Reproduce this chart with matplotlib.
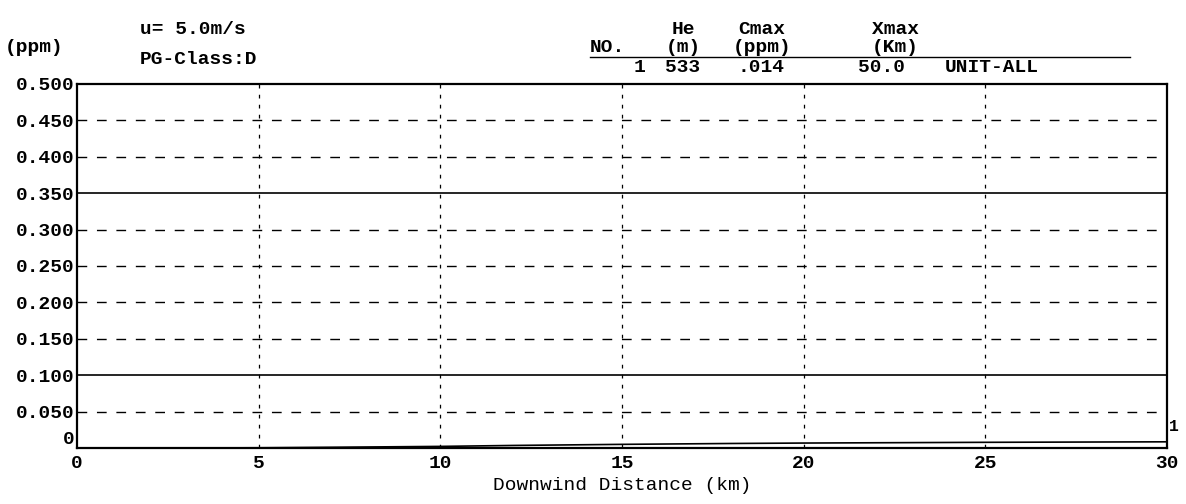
import numpy as np
import matplotlib.pyplot as plt

# ---- data ----
dist_km = [0, 3, 5, 7, 10, 12, 15, 18, 20, 25, 30]
conc_ppm = [0.0, 0.0, 0.0003, 0.001, 0.0022, 0.0035, 0.005, 0.0062, 0.0068, 0.0078, 0.0085]

y_ticks = [0, 0.05, 0.10, 0.15, 0.20, 0.25, 0.30, 0.35, 0.40, 0.45, 0.50]
y_labels = ['0', '0.050', '0.100', '0.150', '0.200', '0.250', '0.300',
            '0.350', '0.400', '0.450', '0.500']
x_ticks = [0, 5, 10, 15, 20, 25, 30]
std_levels = [0.10, 0.35]

header_cols = ['NO.', 'He\n(m)', 'Cmax\n(ppm)', 'Xmax\n(Km)']
row_vals = ['1', '533', '.014', '50.0', 'UNIT-ALL']

plt.rcParams['font.family'] = ['Liberation Mono', 'DejaVu Sans Mono']
plt.rcParams['font.weight'] = 'bold'
fs = 14

fig = plt.figure(figsize=(11.86, 5.04), dpi=100)
ax = fig.add_axes([77 / 1186, 1 - 448 / 504, (1167 - 77) / 1186, (448 - 84) / 504])

# dashed grid
for y in y_ticks[1:-1]:
    if y in std_levels:
        continue
    ax.axhline(y, color='black', lw=1.0, ls=(0, (7, 7)))
for x in x_ticks[1:-1]:
    ax.axvline(x, color='black', lw=0.9, ls=(0, (3, 5)))
for y in std_levels:
    ax.axhline(y, color='black', lw=1.2)

ax.plot(dist_km, conc_ppm, color='black', lw=1.2)
ax.text(30.05, 0.03, '1', fontsize=fs - 2, va='center', ha='left')

ax.set_xlim(0, 30)
ax.set_ylim(0, 0.5)
ax.set_xticks(x_ticks)
ax.set_yticks(y_ticks)
ax.set_yticklabels(y_labels)
ax.tick_params(length=0, labelsize=fs)
ax.tick_params(axis='y', pad=2)
ax.tick_params(axis='x', pad=5)
# the '0' of the y axis sits a little above the x axis line
ax.get_yticklabels()[0].set_verticalalignment('bottom')
for s in ax.spines.values():
    s.set_linewidth(1.6)
ax.set_xlabel('Downwind Distance (km)', fontsize=fs, labelpad=4)

# header texts
fig.text(5 / 1186, 1 - 47 / 504, '(ppm)', fontsize=fs, va='center')
fig.text(140 / 1186, 1 - 30 / 504, 'u= 5.0m/s', fontsize=fs, va='center')
fig.text(140 / 1186, 1 - 60 / 504, 'PG-Class:D', fontsize=fs, va='center')

col_x = [607, 683, 762, 895]
for cx, t in zip(col_x, header_cols):
    lines = t.split('\n')
    if len(lines) == 2:
        fig.text(cx / 1186, 1 - 29 / 504, lines[0], fontsize=fs, ha='center', va='center')
    fig.text(cx / 1186, 1 - 47 / 504, lines[-1], fontsize=fs, ha='center', va='center')
fig.add_artist(plt.Line2D([590 / 1186, 1130 / 1186], [1 - 57 / 504, 1 - 57 / 504],
                          color='black', lw=1.0))

row_x = [645, 683, 785, 905, 945]
row_ha = ['right', 'center', 'right', 'right', 'left']
for rx, t, h in zip(row_x, row_vals, row_ha):
    fig.text(rx / 1186, 1 - 67 / 504, t, fontsize=fs, ha=h, va='center')

fig.savefig('out.png', dpi=100)
